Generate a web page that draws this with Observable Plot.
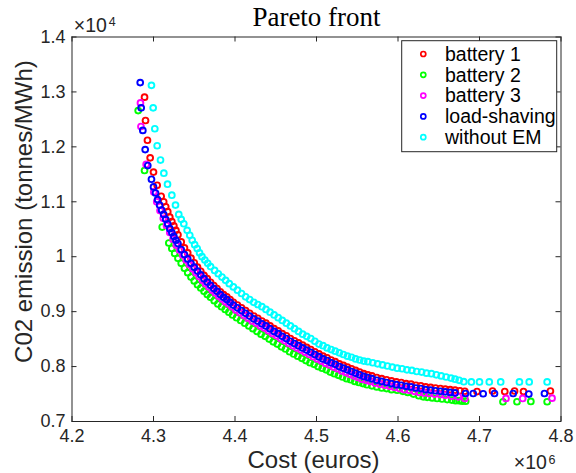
<!DOCTYPE html>
<html><head><meta charset="utf-8">
<script src="https://cdn.jsdelivr.net/npm/d3@7"></script>
<script src="https://cdn.jsdelivr.net/npm/@observablehq/plot@0.6"></script>
<style>
html,body{margin:0;padding:0;background:#fff;}
#chart{width:576px;height:473px;}
</style></head><body><div id="chart"></div>
<script>
// Series: [cost (x10^6 euros), CO2 emission (x10^4)]
const seriesNames = ["battery 1", "battery 2", "battery 3", "load-shaving", "without EM"];
const seriesColors = ["#ff0000", "#00ff00", "#ff00ff", "#0000ff", "#00ffff"];

const battery1 = [
[4.2890,1.2905],[4.2902,1.248],[4.2926,1.212],[4.2959,1.180],[4.3000,1.154],[4.3045,1.130],[4.3094,1.110],
[4.3125,1.100],[4.3150,1.091],[4.3175,1.082],[4.3200,1.072],[4.3225,1.064],[4.3250,1.056],[4.3275,1.048],[4.3300,1.040],
[4.3340,1.027],[4.3380,1.016],[4.3420,1.007],[4.3460,0.9975],[4.3500,0.989],[4.3540,0.981],[4.3580,0.9735],[4.3620,0.966],
[4.3660,0.960],[4.3700,0.9535],[4.3740,0.9475],[4.3780,0.942],[4.3820,0.936],[4.3860,0.931],[4.3900,0.927],[4.3940,0.922],
[4.3980,0.917],[4.4030,0.912],[4.4080,0.907],[4.4130,0.902],[4.4180,0.897],[4.4230,0.892],[4.4280,0.888],[4.4330,0.883],
[4.4380,0.879],[4.4430,0.874],[4.4480,0.869],[4.4530,0.865],[4.4580,0.860],[4.4630,0.856],[4.4680,0.851],[4.4730,0.847],
[4.4780,0.843],[4.4830,0.839],[4.4880,0.835],[4.4930,0.831],[4.4980,0.827],[4.5030,0.823],[4.5080,0.819],[4.5130,0.816],
[4.5180,0.812],[4.5230,0.809],[4.5280,0.805],[4.5330,0.802],[4.5380,0.799],[4.5430,0.796],[4.5480,0.793],[4.5530,0.790],
[4.5580,0.787],[4.5630,0.785],[4.5680,0.783],[4.5740,0.780],[4.5800,0.778],[4.5860,0.776],[4.5920,0.774],[4.5980,0.772],
[4.6040,0.771],[4.6100,0.769],[4.6160,0.768],[4.6220,0.766],[4.6280,0.765],[4.6340,0.763],[4.6400,0.762],[4.6460,0.761],
[4.6520,0.760],[4.6580,0.759],[4.6640,0.758],[4.6700,0.757],[4.6760,0.756],[4.6820,0.755],
[4.6970,0.7545],[4.7160,0.7555],[4.7310,0.7545],[4.7430,0.7555],[4.7540,0.7545],[4.7870,0.7555]
];

const battery2 = [
[4.2812,1.266],[4.2890,1.157],[4.3107,1.054],[4.3188,1.025],[4.3225,1.015],[4.3260,1.006],[4.3300,0.997],[4.3340,0.988],
[4.3380,0.979],[4.3420,0.971],[4.3460,0.963],[4.3500,0.956],[4.3540,0.949],[4.3580,0.943],[4.3620,0.937],[4.3660,0.931],
[4.3700,0.926],[4.3745,0.920],[4.3790,0.914],[4.3835,0.909],[4.3880,0.904],[4.3925,0.899],[4.3970,0.894],[4.4020,0.889],
[4.4070,0.884],[4.4120,0.879],[4.4170,0.874],[4.4220,0.869],[4.4270,0.864],[4.4320,0.859],[4.4370,0.855],[4.4420,0.850],
[4.4470,0.845],[4.4520,0.841],[4.4570,0.836],[4.4620,0.832],[4.4670,0.827],[4.4720,0.823],[4.4770,0.819],[4.4820,0.815],
[4.4870,0.811],[4.4920,0.807],[4.4970,0.804],[4.5020,0.800],[4.5070,0.797],[4.5120,0.794],[4.5170,0.790],[4.5220,0.787],
[4.5270,0.784],[4.5320,0.781],[4.5370,0.778],[4.5420,0.776],[4.5470,0.773],[4.5520,0.771],[4.5570,0.769],[4.5620,0.767],
[4.5680,0.765],[4.5740,0.763],[4.5800,0.761],[4.5860,0.760],[4.5920,0.758],[4.5990,0.757],[4.6060,0.755],[4.6120,0.753],
[4.6190,0.750],[4.6255,0.747],[4.6310,0.745],[4.6358,0.744],[4.6420,0.743],[4.6480,0.742],[4.6540,0.741],[4.6604,0.740],
[4.6660,0.739],[4.6706,0.738],[4.6750,0.738],[4.6788,0.737],[4.6830,0.737],
[4.7288,0.736],[4.7460,0.736],[4.7630,0.7365],[4.7830,0.736]
];

const battery3 = [
[4.2840,1.280],[4.2846,1.237],[4.2910,1.168],[4.3004,1.118],
[4.3040,1.100],[4.3080,1.084],[4.3120,1.070],[4.3160,1.057],[4.3200,1.044],[4.3240,1.032],[4.3280,1.021],[4.3320,1.012],
[4.3360,1.003],[4.3400,0.994],[4.3440,0.986],[4.3480,0.978],[4.3520,0.971],[4.3560,0.964],[4.3600,0.957],[4.3640,0.951],
[4.3680,0.945],[4.3720,0.939],[4.3760,0.934],[4.3800,0.928],[4.3840,0.923],[4.3880,0.918],[4.3920,0.914],[4.3960,0.909],
[4.4010,0.903],[4.4060,0.898],[4.4110,0.893],[4.4160,0.888],[4.4210,0.883],[4.4260,0.879],[4.4310,0.874],[4.4360,0.870],
[4.4410,0.865],[4.4460,0.860],[4.4510,0.856],[4.4560,0.851],[4.4610,0.847],[4.4660,0.842],[4.4710,0.838],[4.4760,0.834],
[4.4810,0.830],[4.4860,0.826],[4.4910,0.822],[4.4960,0.818],[4.5010,0.814],[4.5060,0.810],[4.5110,0.806],[4.5160,0.803],
[4.5210,0.799],[4.5260,0.796],[4.5310,0.792],[4.5360,0.789],[4.5410,0.786],[4.5460,0.783],[4.5510,0.780],[4.5560,0.777],
[4.5610,0.775],[4.5660,0.773],[4.5720,0.770],[4.5780,0.768],[4.5840,0.766],[4.5900,0.764],[4.5960,0.762],[4.6020,0.760],
[4.6080,0.758],[4.6140,0.757],[4.6200,0.755],[4.6260,0.753],[4.6320,0.752],[4.6380,0.751],[4.6450,0.750],[4.6520,0.749],
[4.6580,0.748],[4.6660,0.746],[4.6740,0.745],[4.6820,0.742],
[4.7325,0.742],[4.7530,0.742],[4.7890,0.7425]
];

const loadShaving = [
[4.2837,1.317],[4.2849,1.271],[4.2869,1.230],[4.2898,1.195],[4.2930,1.166],[4.2975,1.141],
[4.3000,1.127],[4.3025,1.116],[4.3050,1.104],[4.3075,1.094],[4.3100,1.085],[4.3125,1.077],[4.3150,1.068],[4.3175,1.060],
[4.3200,1.051],[4.3225,1.044],[4.3250,1.037],[4.3275,1.030],[4.3300,1.024],[4.3340,1.013],[4.3380,1.004],[4.3420,0.996],
[4.3460,0.988],[4.3500,0.981],[4.3540,0.974],[4.3580,0.967],[4.3620,0.960],[4.3660,0.954],[4.3700,0.948],[4.3740,0.942],
[4.3780,0.937],[4.3820,0.931],[4.3860,0.926],[4.3900,0.922],[4.3940,0.917],[4.3980,0.912],[4.4030,0.907],[4.4080,0.902],
[4.4130,0.897],[4.4180,0.892],[4.4230,0.887],[4.4280,0.883],[4.4330,0.878],[4.4380,0.874],[4.4430,0.869],[4.4480,0.864],
[4.4530,0.860],[4.4580,0.855],[4.4630,0.851],[4.4680,0.846],[4.4730,0.842],[4.4780,0.838],[4.4830,0.834],[4.4880,0.830],
[4.4930,0.826],[4.4980,0.822],[4.5030,0.818],[4.5080,0.814],[4.5130,0.811],[4.5180,0.807],[4.5230,0.804],[4.5280,0.800],
[4.5330,0.797],[4.5380,0.794],[4.5430,0.791],[4.5480,0.788],[4.5530,0.785],[4.5580,0.782],[4.5630,0.780],[4.5680,0.778],
[4.5740,0.775],[4.5800,0.773],[4.5860,0.771],[4.5920,0.769],[4.5980,0.767],[4.6040,0.766],[4.6100,0.764],[4.6160,0.763],
[4.6220,0.761],[4.6280,0.760],[4.6340,0.758],[4.6400,0.757],[4.6460,0.756],[4.6520,0.755],[4.6580,0.754],[4.6640,0.753],
[4.6700,0.752],
[4.6828,0.751],[4.6923,0.751],[4.7045,0.7505],[4.7184,0.751],[4.7413,0.751],[4.7605,0.750],[4.7797,0.751]
];

const withoutEM = [
[4.2975,1.312],[4.2996,1.271],[4.3016,1.233],[4.3045,1.202],[4.3086,1.176],[4.3127,1.152],[4.3172,1.132],[4.3225,1.112],
[4.3270,1.094],[4.3310,1.077],[4.3340,1.068],[4.3372,1.060],[4.3413,1.048],[4.3445,1.039],[4.3475,1.030],[4.3505,1.022],
[4.3536,1.015],[4.3565,1.007],[4.3595,1.000],[4.3630,0.994],[4.3665,0.988],[4.3700,0.982],[4.3750,0.975],[4.3795,0.969],
[4.3840,0.963],[4.3885,0.957],[4.3930,0.951],[4.3980,0.945],[4.4030,0.939],[4.4080,0.933],[4.4130,0.927],[4.4180,0.922],
[4.4230,0.917],[4.4280,0.913],[4.4330,0.909],[4.4380,0.904],[4.4430,0.899],[4.4480,0.894],[4.4530,0.889],[4.4580,0.884],
[4.4630,0.879],[4.4680,0.874],[4.4730,0.869],[4.4780,0.864],[4.4830,0.859],[4.4880,0.855],[4.4930,0.851],[4.4980,0.846],
[4.5030,0.841],[4.5080,0.838],[4.5130,0.834],[4.5180,0.831],[4.5230,0.828],[4.5280,0.825],[4.5330,0.822],[4.5380,0.819],
[4.5430,0.817],[4.5480,0.814],[4.5530,0.812],[4.5580,0.810],[4.5630,0.809],[4.5690,0.807],[4.5750,0.805],[4.5810,0.803],
[4.5870,0.801],[4.5930,0.799],[4.5990,0.797],[4.6050,0.796],[4.6110,0.794],[4.6170,0.793],[4.6230,0.791],[4.6290,0.790],
[4.6350,0.788],[4.6410,0.787],[4.6470,0.785],[4.6530,0.783],[4.6590,0.781],[4.6650,0.779],[4.6700,0.777],[4.6750,0.775],
[4.6807,0.7725],[4.6900,0.772],[4.7000,0.772],[4.7120,0.772],[4.7260,0.772],[4.7490,0.772],[4.7610,0.772],[4.7830,0.772]
];

const xTicks = [4.2, 4.3, 4.4, 4.5, 4.6, 4.7, 4.8];
const xTickLabels = ["4.2", "4.3", "4.4", "4.5", "4.6", "4.7", "4.8"];
const yTicks = [0.7, 0.8, 0.9, 1.0, 1.1, 1.2, 1.3, 1.4];
const yTickLabels = ["0.7", "0.8", "0.9", "1", "1.1", "1.2", "1.3", "1.4"];
const titleText = "Pareto front";
const xLabelText = "Cost (euros)";
const yLabelText = "C02 emission (tonnes/MWh)";
const xExponent = "6";
const yExponent = "4";

const allSeries = [battery1, battery2, battery3, loadShaving, withoutEM];
const rows = [];
allSeries.forEach((arr, i) => arr.forEach(([c, e]) => rows.push({series: seriesNames[i], cost: c, emission: e})));

const W = 576, H = 473, mL = 71.5, mR = 15.5, mT = 36.5, mB = 52;
const plotW = W - mL - mR, plotH = H - mT - mB, tickLen = 5;
const axisColor = "#262626";
const sans = "'Liberation Sans', Arial, Helvetica, sans-serif";
const fmtX = d => xTickLabels[xTicks.findIndex(t => Math.abs(t - d) < 1e-9)];
const fmtY = d => yTickLabels[yTicks.findIndex(t => Math.abs(t - d) < 1e-9)];

const chart = Plot.plot({
  width: W,
  height: H,
  marginLeft: mL,
  marginRight: mR,
  marginTop: mT,
  marginBottom: mB,
  style: {fontFamily: sans, fontSize: "18px", color: axisColor, background: "#ffffff"},
  x: {domain: [4.2, 4.8]},
  y: {domain: [0.7, 1.4]},
  color: {domain: seriesNames, range: seriesColors},
  marks: [
    Plot.dot(rows, {x: "cost", y: "emission", stroke: "series", r: 2.9, strokeWidth: 1.9, fill: "none"}),
    Plot.frame({stroke: axisColor, strokeWidth: 1}),
    // inward ticks on all four sides (MATLAB box style)
    Plot.ruleX(xTicks, {x: d => d, insetTop: plotH - tickLen, stroke: axisColor}),
    Plot.ruleX(xTicks, {x: d => d, insetBottom: plotH - tickLen, stroke: axisColor}),
    Plot.ruleY(yTicks, {y: d => d, insetRight: plotW - tickLen, stroke: axisColor}),
    Plot.ruleY(yTicks, {y: d => d, insetLeft: plotW - tickLen, stroke: axisColor}),
    Plot.axisX(xTicks, {anchor: "bottom", tickSize: 0, tickPadding: 8, tickFormat: fmtX, label: null, color: axisColor, fontSize: 18}),
    Plot.axisY(yTicks, {anchor: "left", tickSize: 0, tickPadding: 6.5, tickFormat: fmtY, label: null, color: axisColor, fontSize: 18}),
    Plot.text([titleText], {text: d => d, frameAnchor: "top", textAnchor: "middle", dy: -11.5, lineAnchor: "bottom", fontFamily: "'Liberation Serif', 'Times New Roman', serif", fontSize: 27, fill: "#000000"}),
    Plot.text([xLabelText], {text: d => d, frameAnchor: "bottom", textAnchor: "middle", dx: -3, dy: 46.5, lineAnchor: "bottom", fontSize: 24, fill: axisColor}),
    Plot.text([yLabelText], {text: d => d, frameAnchor: "left", textAnchor: "middle", rotate: -90, dx: -39.8, dy: -17.7, lineAnchor: "bottom", fontSize: 24, fill: axisColor}),
    Plot.text(["\u00d710"], {text: d => d, frameAnchor: "top-left", dx: 1.8, dy: -4.8, textAnchor: "start", lineAnchor: "bottom", fontSize: 19.5, fill: axisColor}),
    Plot.text([yExponent], {text: d => d, frameAnchor: "top-left", dx: 36.8, dy: -11, textAnchor: "start", lineAnchor: "bottom", fontSize: 12.5, fill: axisColor}),
    Plot.text(["\u00d710"], {text: d => d, frameAnchor: "bottom-right", dx: -47.2, dy: 47, textAnchor: "start", lineAnchor: "bottom", fontSize: 19.5, fill: axisColor}),
    Plot.text([xExponent], {text: d => d, frameAnchor: "bottom-right", dx: -12.5, dy: 42, textAnchor: "start", lineAnchor: "bottom", fontSize: 12.5, fill: axisColor})
  ]
});

document.getElementById("chart").appendChild(chart);

// Legend (MATLAB-style boxed legend in the upper right of the axes)
const svg = d3.select(chart);
const lg = svg.append("g").attr("class", "legend").attr("text-anchor", "start");
const box = {x: 401.7, y: 40.7, w: 155, h: 111};
lg.append("rect").attr("x", box.x).attr("y", box.y).attr("width", box.w).attr("height", box.h)
  .attr("fill", "#ffffff").attr("stroke", axisColor).attr("stroke-width", 1);
seriesNames.forEach((name, i) => {
  const cy = 54 + 20.8 * i;
  lg.append("circle").attr("cx", 423.3).attr("cy", cy).attr("r", 2.5)
    .attr("fill", "none").attr("stroke", seriesColors[i]).attr("stroke-width", 1.7);
  lg.append("text").attr("x", 445).attr("y", cy + 6.8).attr("font-size", 19.5)
    .attr("text-anchor", "start").attr("font-family", sans).attr("fill", "#000000").text(name);
});
</script>
</body></html>
